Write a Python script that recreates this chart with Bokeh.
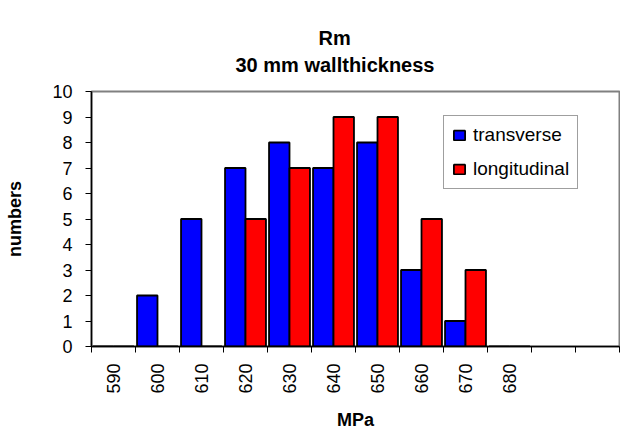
import numpy as np
from bokeh.plotting import figure
from bokeh.models import (ColumnDataSource, Range1d, FixedTicker, LinearAxis,
                          Legend, LegendItem, Title)
from bokeh.transform import dodge
from bokeh.embed import file_html
from bokeh.resources import INLINE

# Tensile strength classes (MPa) and counts per class
categories = ["590", "600", "610", "620", "630", "640", "650", "660", "670", "680"]
transverse = [0, 2, 5, 7, 8, 7, 8, 3, 1, 0]
longitudinal = [0, 0, 0, 5, 7, 9, 9, 5, 3, 0]
y_ticks = [0, 1, 2, 3, 4, 5, 6, 7, 8, 9, 10]

N_SLOTS = 12          # category slots on the axis (two trailing slots are empty)
FONT = "Liberation Sans"
BLUE = "#0000FF"
RED = "#FF0000"

centers = [i + 0.5 for i in range(len(categories))]
source = ColumnDataSource(dict(x=centers, transverse=transverse,
                               longitudinal=longitudinal))

p = figure(width=620, height=432, output_backend="svg", toolbar_location=None,
           title=None, x_axis_type=None, y_axis_type=None,
           x_range=Range1d(0, N_SLOTS), y_range=Range1d(0, 10),
           min_border_left=91, min_border_right=1,
           min_border_top=91, min_border_bottom=78)
p.outline_line_color = "#808080"
p.outline_line_width = 2
p.background_fill_color = "white"
p.border_fill_color = "white"

bar_w = 0.465
r_t = p.vbar(x=dodge("x", -bar_w / 2), top="transverse", width=bar_w, source=source,
             fill_color=BLUE, line_color="black", line_width=1.8)
r_l = p.vbar(x=dodge("x", bar_w / 2), top="longitudinal", width=bar_w, source=source,
             fill_color=RED, line_color="black", line_width=1.8)

# category axis: labels at slot centres, tick marks at slot boundaries
xaxis = LinearAxis(
    ticker=FixedTicker(ticks=centers, minor_ticks=list(range(N_SLOTS + 1))),
    major_label_overrides={c: lab for c, lab in zip(centers, categories)},
    axis_label="MPa",
)
xaxis.major_label_orientation = np.pi / 2
xaxis.major_tick_out = 0
xaxis.major_tick_in = 0
xaxis.major_tick_line_color = None
xaxis.minor_tick_in = 0
xaxis.minor_tick_out = 6
xaxis.minor_tick_line_color = "black"
xaxis.minor_tick_line_width = 1
xaxis.axis_line_color = "black"
xaxis.axis_line_width = 1.5
xaxis.major_label_standoff = 11
xaxis.major_label_text_font = FONT
xaxis.major_label_text_font_size = "18px"
xaxis.major_label_text_color = "black"
xaxis.axis_label_text_font = FONT
xaxis.axis_label_text_font_size = "18px"
xaxis.axis_label_text_font_style = "bold"
xaxis.axis_label_text_color = "black"
xaxis.axis_label_standoff = 13
p.add_layout(xaxis, "below")

yaxis = LinearAxis(ticker=FixedTicker(ticks=y_ticks), axis_label="numbers")
yaxis.major_tick_in = 0
yaxis.major_tick_out = 6
yaxis.major_tick_line_color = "black"
yaxis.minor_tick_line_color = None
yaxis.axis_line_color = "black"
yaxis.axis_line_width = 1.5
yaxis.major_label_standoff = 13
yaxis.major_label_text_font = FONT
yaxis.major_label_text_font_size = "18px"
yaxis.major_label_text_color = "black"
yaxis.axis_label_text_font = FONT
yaxis.axis_label_text_font_size = "18px"
yaxis.axis_label_text_font_style = "bold"
yaxis.axis_label_text_color = "black"
yaxis.axis_label_standoff = 24
p.add_layout(yaxis, "left")

# two-line chart title; the second line sits closest to the plot frame
sub = Title(text="30 mm wallthickness", align="left", offset=144,
            text_font=FONT, text_font_size="20px", text_font_style="bold",
            text_color="black", standoff=32)
main = Title(text="Rm", align="left", offset=227,
             text_font=FONT, text_font_size="20px", text_font_style="bold",
             text_color="black", standoff=-26)
p.add_layout(sub, "above")
p.add_layout(main, "above")

legend = Legend(items=[LegendItem(label="transverse", renderers=[r_t]),
                       LegendItem(label="longitudinal", renderers=[r_l])],
                location=(352, 157))
legend.border_line_color = "#404040"
legend.border_line_width = 1.2
legend.background_fill_color = "white"
legend.background_fill_alpha = 1
legend.label_text_font = FONT
legend.label_text_font_size = "19px"
legend.label_text_color = "black"
legend.glyph_width = 14
legend.glyph_height = 12
legend.label_standoff = 7
legend.label_height = 20
legend.padding = 8
legend.spacing = 12
legend.margin = 0
p.add_layout(legend, "center")

open("out.html", "w").write(file_html(p, INLINE))
